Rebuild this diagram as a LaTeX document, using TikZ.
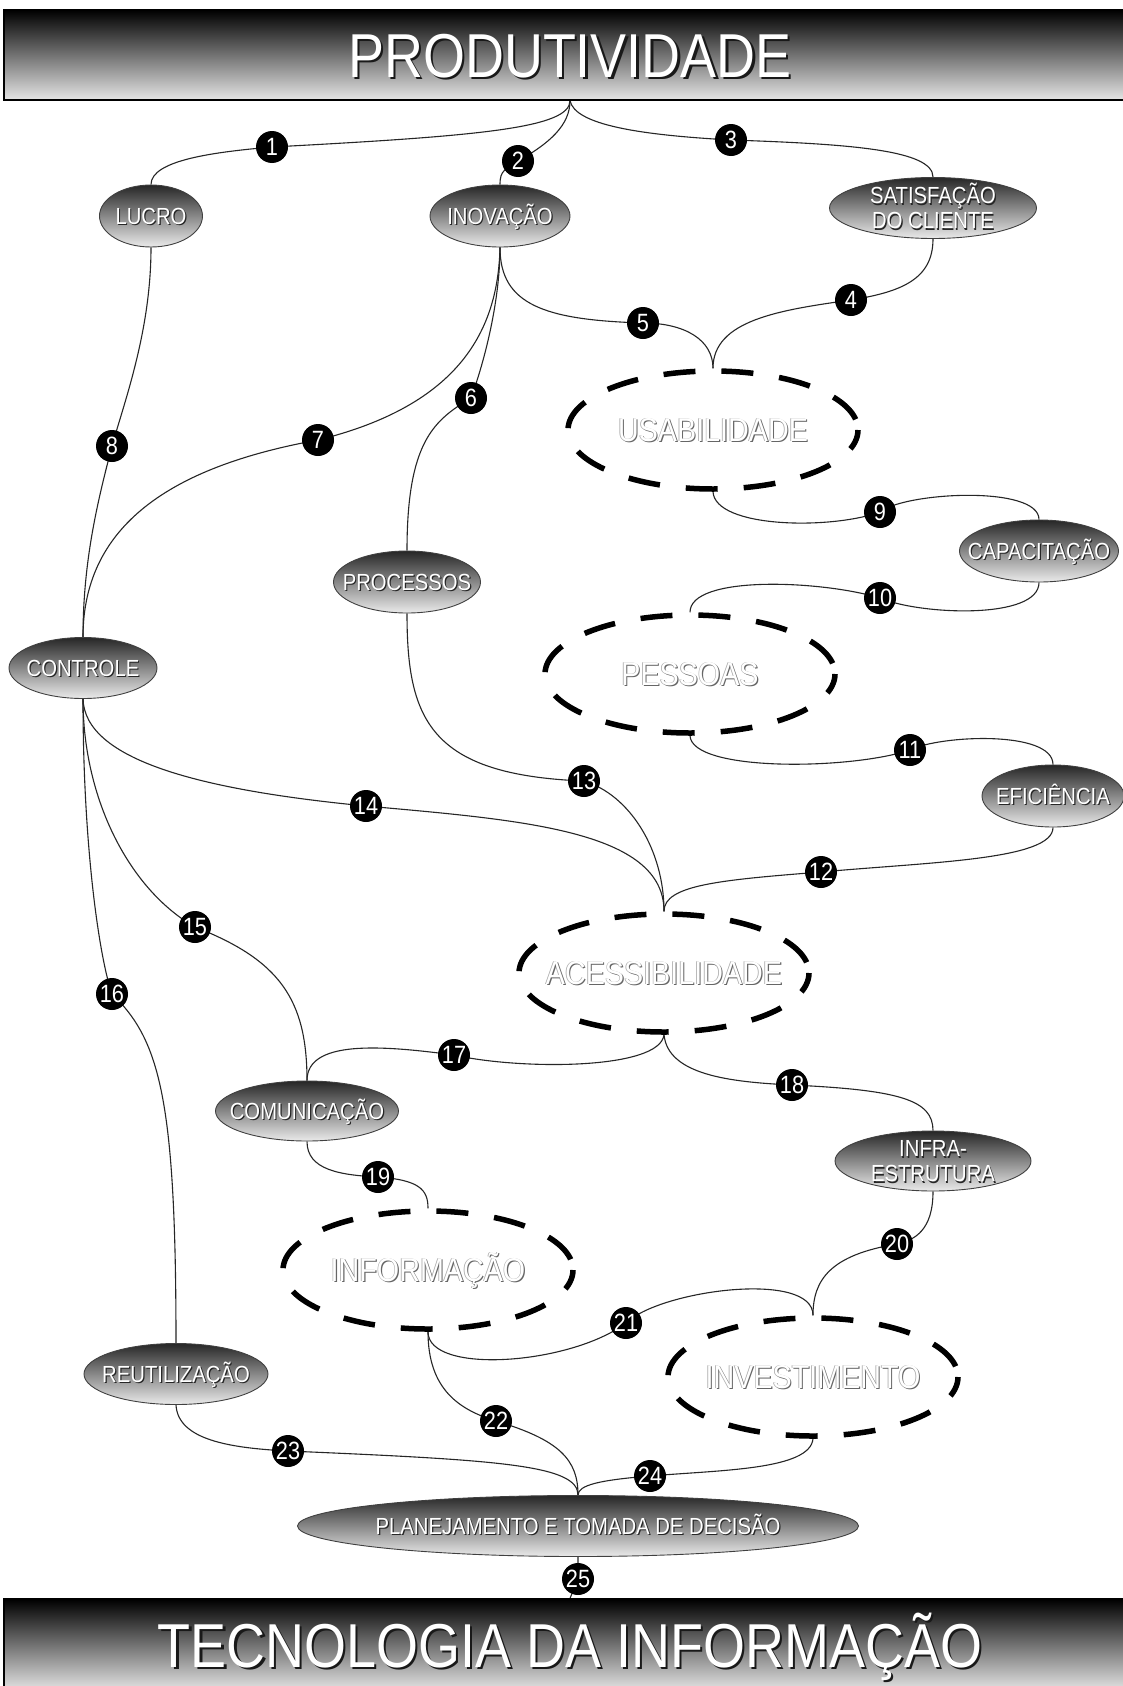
\documentclass[tikz,border=0pt]{standalone}
\usepackage{fontspec}
\setmainfont{Liberation Sans}[FakeStretch=0.87]
\usetikzlibrary{shapes.geometric}
\pgfdeclarelayer{bg}
\pgfsetlayers{bg,main}
\newcommand\zb[1]{\makebox[0pt]{#1}}
\newcommand\shtxt[1]{\rlap{\kern1.2pt\raisebox{-1.2pt}{\textcolor{black!85}{#1}}}\textcolor{white}{#1}}
\newcommand\bigsh[1]{\rlap{\kern2.2pt\raisebox{-2.2pt}{\textcolor{black!90}{#1}}}\textcolor{white}{#1}}
\newcommand\dsh[1]{\rlap{\kern-0.7pt\raisebox{0.7pt}{\textcolor{black!35}{#1}}}\rlap{\kern1.1pt\raisebox{-1.1pt}{\textcolor{black!60}{#1}}}\textcolor{white}{#1}}
\tikzset{
  gnode/.style={ellipse, draw=black!75, line width=0.9pt, top color=black!85, bottom color=black!8,
    inner sep=0pt, font=\fontsize{23.3}{25}\selectfont, text height=16.7pt, text depth=0pt},
  dnode/.style={ellipse, draw=black, line width=5.5pt, dash pattern=on 32pt off 26pt, dash phase=47pt,
    minimum width=290pt, minimum height=118pt, inner sep=0pt,
    font=\fontsize{33}{33}\selectfont, text height=23.6pt, text depth=0pt},
  num/.style={circle, fill=black, inner sep=0pt, minimum size=32pt, text=white,
    font=\fontsize{25}{25}\selectfont, text height=17.9pt, text depth=0pt},
  banner/.style={rectangle, draw=black, line width=1.3pt, top color=black, bottom color=black!10,
    minimum width=1132pt, inner sep=0pt, font=\fontsize{62}{62}\selectfont, text height=44.4pt, text depth=0pt},
  conn/.style={line width=1.1pt, black!85}
}
\begin{document}
\begin{tikzpicture}[x=1pt,y=-1pt]
\useasboundingbox (0,0) rectangle (1123,1686);
\begin{pgfonlayer}{bg}
\fill[white] (0,0) rectangle (1123,1686);
\end{pgfonlayer}
% banners
\node[banner, minimum height=90pt] (top) at (570,55) {\bigsh{PRODUTIVIDADE}};
\node[banner, minimum height=92pt] (bot) at (570,1645) {\bigsh{TECNOLOGIA DA INFORMAÇÃO}};
% gradient nodes
\node[gnode, minimum width=103pt, minimum height=62pt] (lucro) at (151,216) {\zb{\shtxt{LUCRO}}};
\node[gnode, minimum width=140pt, minimum height=62pt] (inov) at (500,216) {\zb{\shtxt{INOVAÇÃO}}};
\node[gnode, minimum width=207pt, minimum height=61pt] (satis) at (933,208) {\zb{\raisebox{12.5pt}{\shtxt{SATISFAÇÃO}}}\zb{\raisebox{-12.5pt}{\shtxt{DO CLIENTE}}}};
\node[gnode, minimum width=159pt, minimum height=62pt] (capac) at (1039,551) {\zb{\shtxt{CAPACITAÇÃO}}};
\node[gnode, minimum width=147pt, minimum height=62pt] (proc) at (407,582) {\zb{\shtxt{PROCESSOS}}};
\node[gnode, minimum width=148pt, minimum height=61pt] (ctrl) at (83,668) {\zb{\shtxt{CONTROLE}}};
\node[gnode, minimum width=142pt, minimum height=62pt] (efic) at (1053,796) {\zb{\shtxt{EFICIÊNCIA}}};
\node[gnode, minimum width=183pt, minimum height=60pt] (comun) at (307,1111) {\zb{\shtxt{COMUNICAÇÃO}}};
\node[gnode, minimum width=196pt, minimum height=60pt] (infra) at (933,1161) {\zb{\raisebox{12.5pt}{\shtxt{INFRA-}}}\zb{\raisebox{-12.5pt}{\shtxt{ESTRUTURA}}}};
\node[gnode, minimum width=184pt, minimum height=61pt] (reut) at (176,1374) {\zb{\shtxt{REUTILIZAÇÃO}}};
\node[gnode, minimum width=561pt, minimum height=61pt] (plan) at (578,1526) {\zb{\shtxt{PLANEJAMENTO E TOMADA DE DECISÃO}}};
% dashed nodes
\node[dnode] (usab) at (713,430) {\zb{\dsh{USABILIDADE}}};
\node[dnode] (pess) at (690,674) {\zb{\dsh{PESSOAS}}};
\node[dnode] (acess) at (664,973) {\zb{\dsh{ACESSIBILIDADE}}};
\node[dnode] (inform) at (428,1270) {\zb{\dsh{INFORMAÇÃO}}};
\node[dnode] (invest) at (813,1377) {\zb{\dsh{INVESTIMENTO}}};
% number circles
\node[num] (n1) at (272,147) {\zb{1}};
\node[num] (n2) at (518,161) {\zb{2}};
\node[num] (n3) at (731,140) {\zb{3}};
\node[num] (n4) at (851,300) {\zb{4}};
\node[num] (n5) at (643,323) {\zb{5}};
\node[num] (n6) at (471,398) {\zb{6}};
\node[num] (n7) at (318,440) {\zb{7}};
\node[num] (n8) at (112,446) {\zb{8}};
\node[num] (n9) at (880,512) {\zb{9}};
\node[num] (n10) at (880,598) {\zb{10}};
\node[num] (n11) at (910,750) {\zb{11}};
\node[num] (n12) at (821,872) {\zb{12}};
\node[num] (n13) at (584,781) {\zb{13}};
\node[num] (n14) at (366,806) {\zb{14}};
\node[num] (n15) at (195,927) {\zb{15}};
\node[num] (n16) at (112,994) {\zb{16}};
\node[num] (n17) at (454,1055) {\zb{17}};
\node[num] (n18) at (792,1085) {\zb{18}};
\node[num] (n19) at (378,1177) {\zb{19}};
\node[num] (n20) at (897,1244) {\zb{20}};
\node[num] (n21) at (626,1323) {\zb{21}};
\node[num] (n22) at (496,1421) {\zb{22}};
\node[num] (n23) at (288,1451) {\zb{23}};
\node[num] (n24) at (650,1476) {\zb{24}};
\node[num] (n25) at (578,1579) {\zb{25}};
% connectors
\begin{pgfonlayer}{bg}
\draw[conn] (top.south) .. controls (570,128) and (480,136) .. (n1.center) .. controls (215,152) and (151,160) .. (lucro.north);
\draw[conn] (top.south) .. controls (570,125) and (550,143) .. (n2.center) .. controls (505,170) and (500,170) .. (inov.north);
\draw[conn] (top.south) .. controls (575,125) and (640,135) .. (n3.center) .. controls (850,144) and (933,150) .. (satis.north);
\draw[conn] (satis.south) .. controls (933,280) and (900,292) .. (n4.center) .. controls (780,310) and (713,320) .. (usab.north);
\draw[conn] (inov.south) .. controls (500,305) and (545,320) .. (n5.center) .. controls (685,323) and (713,340) .. (usab.north);
\draw[conn] (inov.south) .. controls (500,300) and (485,360) .. (n6.center) .. controls (435,420) and (407,440) .. (proc.north);
\draw[conn] (inov.south) .. controls (498,330) and (460,405) .. (n7.center) .. controls (180,465) and (83,520) .. (ctrl.north);
\draw[conn] (lucro.south) .. controls (151,330) and (125,400) .. (n8.center) .. controls (98,500) and (83,560) .. (ctrl.north);
\draw[conn] (usab.south) .. controls (715,528) and (830,530) .. (n9.center) .. controls (905,492) and (1039,485) .. (capac.north);
\draw[conn] (capac.south) .. controls (1039,620) and (920,615) .. (n10.center) .. controls (820,580) and (690,575) .. (pess.north);
\draw[conn] (pess.south) .. controls (692,772) and (850,770) .. (n11.center) .. controls (940,735) and (1053,730) .. (efic.north);
\draw[conn] (efic.south) .. controls (1053,860) and (930,862) .. (n12.center) .. controls (720,880) and (664,885) .. (acess.north);
\draw[conn] (proc.south) .. controls (407,720) and (430,775) .. (n13.center) .. controls (630,795) and (664,850) .. (acess.north);
\draw[conn] (ctrl.south) .. controls (85,760) and (200,790) .. (n14.center) .. controls (520,820) and (664,830) .. (acess.north);
\draw[conn] (ctrl.south) .. controls (83,800) and (130,890) .. (n15.center) .. controls (280,960) and (307,1000) .. (comun.north);
\draw[conn] (ctrl.south) .. controls (83,850) and (100,960) .. (n16.center) .. controls (160,1040) and (176,1100) .. (reut.north);
\draw[conn] (acess.south) .. controls (660,1070) and (520,1070) .. (n17.center) .. controls (380,1045) and (307,1040) .. (comun.north);
\draw[conn] (acess.south) .. controls (668,1075) and (730,1082) .. (n18.center) .. controls (900,1090) and (933,1100) .. (infra.north);
\draw[conn] (comun.south) .. controls (307,1170) and (340,1175) .. (n19.center) .. controls (420,1180) and (428,1190) .. (inform.north);
\draw[conn] (infra.south) .. controls (933,1230) and (915,1240) .. (n20.center) .. controls (830,1255) and (813,1280) .. (invest.north);
\draw[conn] (inform.south) .. controls (428,1375) and (570,1365) .. (n21.center) .. controls (660,1290) and (813,1270) .. (invest.north);
\draw[conn] (inform.south) .. controls (428,1390) and (460,1410) .. (n22.center) .. controls (560,1440) and (578,1460) .. (plan.north);
\draw[conn] (reut.south) .. controls (178,1440) and (230,1448) .. (n23.center) .. controls (500,1460) and (578,1465) .. (plan.north);
\draw[conn] (invest.south) .. controls (810,1470) and (720,1470) .. (n24.center) .. controls (600,1480) and (578,1485) .. (plan.north);
\draw[conn] (plan.south) -- (n25.center) -- (bot.north);
\end{pgfonlayer}
\end{tikzpicture}
\end{document}
